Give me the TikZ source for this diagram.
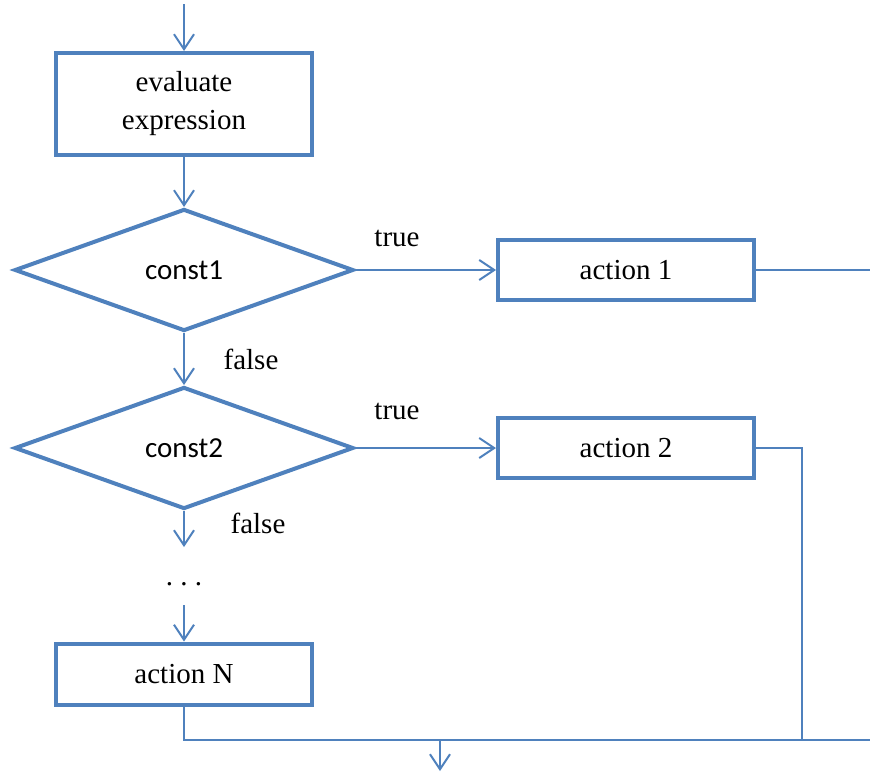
\documentclass[tikz,border=0pt]{standalone}
\usepackage{fontspec}
\setmainfont{Liberation Serif}
\newfontfamily\labelsans{Carlito}
\usetikzlibrary{shapes.geometric,arrows.meta}
\definecolor{flowblue}{HTML}{4F81BD}
\begin{document}
\begin{tikzpicture}[x=1pt,y=-1pt,
  every node/.style={font=\fontsize{29}{38}\selectfont},
  procbox/.style={draw=flowblue,line width=4pt,rectangle,inner sep=0pt,
    minimum width=256pt,align=center},
  decision/.style={draw=flowblue,line width=4pt,diamond,inner sep=0pt,
    minimum width=339pt,minimum height=122pt,font=\labelsans\fontsize{29}{35}\selectfont},
  flow/.style={draw=flowblue,line width=2pt},
  flowarrow/.style={flow,-{Straight Barb[length=15pt,width=20pt,line width=2pt]}},
  tag/.style={inner sep=0pt,anchor=center}
]
\useasboundingbox (0,0) rectangle (870,771);

% process boxes and decisions
\node[procbox,minimum height=102pt] (eval) at (184,104) {evaluate\\expression};
\node[decision] (d1) at (184,270) {const1};
\node[decision] (d2) at (184,448) {const2};
\node[procbox,minimum height=60pt] (a1) at (626,270) {action 1};
\node[procbox,minimum height=60pt] (a2) at (626,448) {action 2};
\node[procbox,minimum height=61pt] (aN) at (184,674) {action N};
\node[tag] (dots) at (184,584) {.\hspace{0.25em}.\hspace{0.25em}.};

% branch labels
\node[tag] (t1) at (397,238) {true};
\node[tag] (f1) at (251,359) {false};
\node[tag] (t2) at (397,411) {true};
\node[tag] (f2) at (258,523) {false};

% free ends of connectors
\coordinate (in)   at (184,4);
\coordinate (out1) at (870,270);
\coordinate (down2) at (184,547);
\coordinate (fromdots) at (184,605);
\coordinate (jr) at (802,740);
\coordinate (jl) at (184,740);
\coordinate (exitR) at (870,740);
\coordinate (merge) at (440,740);
\coordinate (exit) at (440,771);

% connectors
\draw[flowarrow] (in) -- (eval.north);
\draw[flowarrow] (eval.south) -- (d1.north);
\draw[flowarrow] (d1.east) -- (a1.west);
\draw[flow] (a1.east) -- (out1);
\draw[flowarrow] (d1.south) -- (d2.north);
\draw[flowarrow] (d2.east) -- (a2.west);
\draw[flow] (a2.east) -| (jr);
\draw[flowarrow] (d2.south) -- (down2);
\draw[flowarrow] (fromdots) -- (aN.north);
\draw[flow] (aN.south) -- (jl) -- (jr) -- (exitR);
\draw[flowarrow] (merge) -- (exit);
\end{tikzpicture}
\end{document}
